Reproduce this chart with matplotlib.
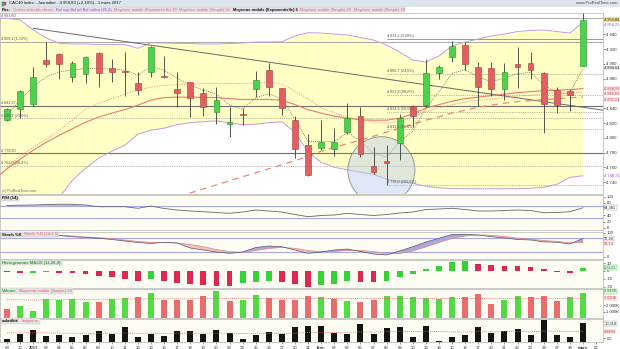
import matplotlib
matplotlib.use('Agg')
import matplotlib.pyplot as plt
from matplotlib.patches import Ellipse, Rectangle
import numpy as np

# ---- data (CAC40 daily, 29 dec 2016 -> 1 mars 2017) ----
dates = ['29', '30', '2017', '03', '04', '05', '06', '09', '10', '11', '12', '13',
         '16', '17', '18', '19', '20', '23', '24', '25', '26', '27', '30', '31',
         'févr.', '02', '03', '06', '07', '08', '09', '10', '13', '14', '15', '16', '17',
         '20', '21', '22', '23', '24', '27', '28', 'mars', '02']

opens = [4823.9, 4838.4, 4845.6, 4905.1, 4912.9, 4881.7, 4885.8, 4915.0, 4894.7, 4890.3,
         4873.6, 4889.3, 4883.9, 4865.9, 4875.0, 4860.1, 4835.1, 4818.1, 4831.6, 4865.5,
         4891.6, 4866.8, 4823.9, 4790.1, 4786.9, 4785.6, 4808.1, 4829.3, 4761.6, 4768.4,
         4792.4, 4842.9, 4844.2, 4887.1, 4909.6, 4925.5, 4896.1, 4893.9, 4865.9, 4899.7,
         4901.5, 4887.1, 4864.5, 4863.6, 4897.4]
highs = [4839.7, 4864.5, 4896.1, 4929.1, 4915.0, 4903.8, 4911.0, 4915.5, 4906.1, 4916.0,
         4888.9, 4924.5, 4911.0, 4889.3, 4875.5, 4867.6, 4869.0, 4841.9, 4840.6, 4890.3,
         4900.7, 4867.5, 4829.3, 4805.0, 4823.9, 4812.7, 4847.3, 4841.1, 4787.8, 4790.1,
         4832.0, 4844.2, 4906.1, 4898.4, 4931.3, 4929.1, 4902.0, 4902.0, 4900.7, 4922.3,
         4916.4, 4889.3, 4869.0, 4865.5, 4968.5]
lows = [4822.6, 4826.2, 4843.3, 4896.1, 4879.4, 4875.0, 4874.4, 4869.0, 4875.0, 4856.8,
        4857.8, 4882.5, 4880.4, 4841.9, 4827.6, 4829.3, 4819.4, 4801.3, 4817.1, 4854.6,
        4856.4, 4830.7, 4772.9, 4749.0, 4783.3, 4775.6, 4805.0, 4774.2, 4750.8, 4735.9,
        4770.7, 4814.8, 4841.9, 4879.4, 4902.8, 4891.6, 4843.3, 4856.4, 4851.0, 4866.8,
        4879.4, 4806.7, 4833.8, 4836.5, 4897.0]
closes = [4838.8, 4863.2, 4882.5, 4899.3, 4899.6, 4900.7, 4909.6, 4887.1, 4888.5, 4888.9,
          4864.5, 4922.3, 4882.1, 4860.1, 4854.1, 4841.9, 4851.0, 4821.6, 4830.3, 4877.7,
          4868.2, 4840.6, 4785.6, 4749.4, 4794.5, 4794.0, 4826.2, 4778.8, 4753.9, 4766.6,
          4826.2, 4829.3, 4887.9, 4895.3, 4924.1, 4899.7, 4868.2, 4865.5, 4888.5, 4895.3,
          4891.6, 4845.6, 4845.0, 4857.8, 4959.83]
prev_close = 4845.0

boll_up = [4961.6, 4959.3, 4945.8, 4934.9, 4927.8, 4926.8, 4926.8, 4926.1, 4926.1, 4926.1,
           4921.0, 4928.6, 4928.2, 4927.8, 4927.5, 4926.8, 4926.8, 4927.5, 4928.2, 4929.5,
           4929.5, 4929.9, 4937.6, 4942.1, 4941.7, 4940.3, 4939.0, 4935.6, 4932.2, 4925.5,
           4916.0, 4905.1, 4902.4, 4910.6, 4924.1, 4929.5, 4933.6, 4937.6, 4940.3, 4943.7,
           4945.1, 4945.8, 4943.7, 4941.7, 4956.21]
boll_lo = [4677.7, 4687.2, 4698.0, 4708.8, 4719.6, 4742.7, 4758.9, 4772.5, 4781.9, 4790.1,
           4805.0, 4810.4, 4813.1, 4817.8, 4820.5, 4821.9, 4823.0, 4820.5, 4817.8, 4818.5,
           4820.5, 4821.6, 4807.7, 4780.6, 4767.0, 4760.3, 4756.9, 4753.5, 4750.8, 4744.0,
           4740.6, 4738.6, 4734.5, 4732.5, 4731.4, 4731.2, 4731.2, 4731.2, 4731.2, 4731.4,
           4731.8, 4733.2, 4737.2, 4746.7, 4748.71]
ema5 = [4830.7, 4851.0, 4869.0, 4882.5, 4889.3, 4891.6, 4893.9, 4893.9, 4892.6, 4891.6,
        4884.8, 4896.1, 4891.6, 4880.4, 4871.3, 4864.5, 4859.1, 4844.1, 4838.6, 4854.2,
        4859.8, 4852.1, 4825.5, 4795.1, 4794.9, 4794.8, 4807.4, 4796.0, 4779.2, 4774.2,
        4795.0, 4808.7, 4840.4, 4862.4, 4887.1, 4892.1, 4882.5, 4875.7, 4880.8, 4886.6,
        4888.6, 4871.4, 4861.1, 4859.8, 4894.54]
ema20 = [4758.2, 4771.1, 4783.3, 4794.1, 4803.6, 4812.4, 4821.2, 4828.0, 4833.4, 4838.1,
         4844.2, 4851.0, 4854.4, 4855.0, 4855.0, 4854.8, 4854.4, 4853.0, 4851.9, 4851.9,
         4851.9, 4851.0, 4844.9, 4838.1, 4833.4, 4829.3, 4826.6, 4824.3, 4823.9, 4823.9,
         4826.6, 4832.3, 4840.2, 4844.9, 4849.6, 4853.0, 4855.0, 4857.1, 4859.1, 4861.1,
         4862.5, 4863.8, 4864.5, 4865.2, 4866.59]
sma20 = [4760.3, 4775.2, 4787.3, 4798.2, 4810.4, 4823.9, 4838.8, 4846.9, 4853.0, 4859.1,
         4864.5, 4868.6, 4870.6, 4872.0, 4872.6, 4873.1, 4873.6, 4873.6, 4873.6, 4874.0,
         4875.4, 4872.6, 4863.2, 4853.0, 4840.2, 4834.1, 4828.0, 4824.6, 4821.2, 4819.8,
         4822.6, 4828.0, 4835.4, 4840.8, 4844.9, 4848.3, 4851.0, 4852.3, 4854.4, 4856.4,
         4857.8, 4859.1, 4860.1, 4860.5, 4861.55]
sma50 = [4648.6, 4654.0, 4659.5, 4665.5, 4670.9, 4676.3, 4681.7, 4687.2, 4692.6, 4698.0,
         4703.5, 4709.1, 4714.5, 4720.1, 4725.5, 4731.0, 4736.4, 4742.0, 4747.4, 4752.8,
         4758.2, 4763.7, 4769.1, 4775.2, 4781.9, 4787.3, 4792.1, 4796.8, 4802.2, 4807.7,
         4813.1, 4818.5, 4823.9, 4828.6, 4833.4, 4837.4, 4841.5, 4844.2, 4846.9, 4849.0,
         4850.3, 4851.7, 4853.0, 4854.1, 4855.13]

# horizontal levels (full width) and retracement from the 8 feb low
levels_full = [4961.6, 4929.1, 4843.27, 4826.2, 4779.6, 4762.0]
labels_full = ['4 961,60', '4 929,1 (1,33%)', '4 843,27', '4 826,2 (23,6%)',
               '4 779,60', '4 762,0 (38,2%)']
styles_full = ['solid', 'solid', 'solid', 'dotted', 'solid', 'dotted']
fib_start = 29
levels_fib = [4933.2, 4886.7, 4857.9, 4834.6, 4811.3, 4736.0]
labels_fib = ['4 933,2 (0,00%)', '4 886,7 (23,6%)', '4 857,9 (38,2%)',
              '4 834,6 (50,0%)', '4 811,3 (61,8%)', '4 736,0 (100,0%)']
trend_x = [2, 45.5]
trend_y = [4948.0, 4837.5]

rsi = [71.6, 72.6, 73.2, 74.8, 75.5, 75.5, 73.2, 67.7, 67.7, 67.7, 62.6, 70.0, 62.0, 57.0,
       53.9, 51.6, 49.0, 46.5, 50.6, 57.0, 53.9, 50.6, 42.6, 35.5, 39.4, 41.0, 46.5, 42.6,
       39.4, 42.6, 47.4, 50.6, 58.7, 60.3, 62.6, 58.7, 53.9, 53.9, 55.5, 57.0, 55.5, 48.4,
       49.0, 51.6, 64.381]
stoch_k = [94.6, 94.6, 92.5, 90.4, 88.3, 83.3, 80.0, 76.7, 71.7, 65.4, 59.2, 55.0, 60.0,
           57.0, 36.3, 27.9, 19.6, 14.2, 19.6, 38.3, 44.6, 41.7, 27.9, 14.2, 19.6, 27.9,
           32.0, 21.7, 11.3, 7.1, 23.8, 41.7, 61.3, 76.7, 92.5, 93.3, 90.4, 83.3, 78.0,
           71.7, 69.6, 62.0, 60.0, 52.9, 76.28]
stoch_d = [94.6, 94.6, 93.3, 91.7, 89.6, 86.3, 82.1, 79.2, 75.8, 69.6, 63.3, 60.0, 58.3,
           57.1, 50.8, 41.7, 30.0, 20.8, 17.5, 25.8, 34.2, 38.3, 35.0, 25.8, 20.8, 21.7,
           25.8, 25.8, 21.7, 13.3, 13.3, 23.8, 40.4, 59.2, 75.8, 86.3, 90.4, 89.2, 84.2,
           77.5, 72.9, 67.5, 63.8, 58.3, 58.14]
macd_hist = [-1.7, -3.0, -2.6, -1.3, -2.1, -3.0, -3.4, -6.4, -8.1, -10.3, -12.4, -10.3,
             -12.4, -15.8, -17.1, -17.5, -18.8, -19.2, -15.8, -14.5, -12.8, -13.7, -16.7,
             -20.1, -18.4, -16.7, -13.2, -13.6, -14.1, -13.2, -8.1, -3.8, 3.0, 6.8, 11.5,
             12.4, 9.4, 7.3, 6.8, 6.4, 5.6, 2.1, -1.3, -2.1, 4.3141]
prev_hist = -1.2
volume = [1.41, 1.92, 1.14, 2.97, 2.81, 2.97, 2.55, 2.55, 2.97, 3.06, 3.28, 3.84, 2.81,
          2.81, 2.81, 3.38, 4.16, 2.70, 2.81, 3.64, 3.06, 2.81, 2.81, 3.48, 3.22, 2.97,
          2.59, 2.55, 2.81, 3.48, 3.38, 3.22, 3.06, 2.97, 3.22, 3.22, 3.75, 2.19, 2.86,
          3.48, 3.22, 3.48, 2.59, 3.22, 3.84]
volume_ma = [2.86, 2.84, 2.80, 2.83, 2.85, 2.88, 2.90, 2.92, 2.93, 2.95, 2.97, 3.00, 2.99,
             2.98, 2.98, 3.00, 3.05, 3.03, 3.02, 3.04, 3.05, 3.05, 3.04, 3.06, 3.06, 3.05,
             3.04, 3.02, 3.01, 3.03, 3.05, 3.06, 3.07, 3.06, 3.06, 3.05, 3.07, 3.05, 3.04,
             3.05, 3.06, 3.07, 3.06, 3.07, 3.09]
volat = [0.45, 0.80, 1.07, 0.66, 0.71, 0.61, 0.73, 0.98, 0.78, 1.28, 0.61, 0.82, 0.64,
         0.98, 1.00, 0.78, 1.05, 0.87, 0.45, 0.73, 0.91, 0.78, 1.26, 1.37, 1.35, 0.84,
         0.78, 1.46, 0.80, 1.19, 1.30, 0.59, 1.37, 0.34, 0.57, 0.73, 1.26, 0.89, 1.00,
         1.14, 0.71, 1.76, 0.73, 0.59, 1.5318]
volat_ma = [0.88, 0.87, 0.88, 0.87, 0.86, 0.85, 0.84, 0.85, 0.84, 0.86, 0.85, 0.85, 0.84,
            0.85, 0.86, 0.85, 0.86, 0.85, 0.83, 0.83, 0.84, 0.84, 0.86, 0.89, 0.91, 0.91,
            0.91, 0.94, 0.93, 0.95, 0.97, 0.96, 0.98, 0.95, 0.94, 0.93, 0.95, 0.95, 0.96,
            0.97, 0.96, 1.00, 0.99, 0.97, 0.9884]

# ---- figure ----
W, H = 620, 349
plt.rcParams['font.family'] = ['Liberation Sans', 'DejaVu Sans']
fig = plt.figure(figsize=(W / 100, H / 100), dpi=100)
fig.patch.set_facecolor('white')
renderer = fig.canvas.get_renderer()

idx = np.arange(len(closes))
XL, XR = -0.535, 45.53
AXW = 603 / W
GREEN, RED = '#4bd34b', '#e35f5f'
PINK = '#e2607a'
PURPLE = '#c79ae6'
LAV = '#aaaaee'
FS = 3.1
RFS = 2.8


def fx(x):
    return x / W


def fy(y):
    return 1 - y / H


def panel(top, bottom, bg='#fdfdf4'):
    ax = fig.add_axes([0, fy(bottom), AXW, (bottom - top) / H])
    ax.set_facecolor(bg)
    ax.set_xlim(XL, XR)
    ax.yaxis.tick_right()
    ax.tick_params(axis='y', labelsize=FS, length=1.5, width=0.4, pad=1, colors='#333333')
    ax.tick_params(axis='x', bottom=False, labelbottom=False)
    for s in ax.spines.values():
        s.set_color('#b4b4b4')
        s.set_linewidth(0.5)
    return ax


def fmt(v, nd=2):
    s = f'{v:,.{nd}f}'
    return s.replace(',', ' ').replace('.', ',')


def rlabel(ax, v, txt, color='#222222', bg='white', ec='none'):
    ax.text(1.002, v, txt, transform=ax.get_yaxis_transform(), fontsize=RFS, color=color,
            va='center', ha='left', zorder=10,
            bbox=dict(boxstyle='square,pad=0.1', fc=bg, ec=ec, lw=0.3))


def header(x, y, parts, bg='#e4e4e4', size=FS):
    x0 = x
    for txt, col, bold in parts:
        t = fig.text(fx(x), fy(y), txt, fontsize=size, color=col, va='center', ha='left',
                     fontweight='bold' if bold else 'normal', zorder=7)
        x += t.get_window_extent(renderer).width + 2.5
    fig.add_artist(Rectangle((fx(x0 - 1.5), fy(y + 2.6)), fx(x - x0), 5.2 / H,
                             transform=fig.transFigure, fc=bg, ec='#c4c4c4', lw=0.3, zorder=6))


# title bar
fig.add_artist(Rectangle((0, fy(6.5)), 1, 6.5 / H, transform=fig.transFigure,
                         fc='#dfe5ec', ec='none', zorder=1))
fig.add_artist(Rectangle((fx(1.5), fy(5.5)), fx(2.2), 3.5 / H, transform=fig.transFigure,
                         fc=GREEN, ec='#2a7a2a', lw=0.3, zorder=2))
fig.add_artist(Rectangle((fx(4.2), fy(5.0)), fx(2.2), 3.0 / H, transform=fig.transFigure,
                         fc=RED, ec='#993333', lw=0.3, zorder=2))
fig.text(fx(9), fy(3.3), 'CAC40 Index - Journalier - 4 959,83 (+2,10%) - 1 mars 2017',
         fontsize=FS, color='#111111', va='center', zorder=3)
fig.text(fx(617), fy(3.5), 'www.ProRealTime.com', fontsize=2.9, color='#444444',
         va='center', ha='right', zorder=3)

header(2, 9.6, [('Prix:', '#111111', True), ('Ordres sélectifs clients', PINK, False),
                ('Bol sup Bol inf Bol milieu (20,2)', '#9a44d0', False),
                ('Moyenne mobile (Exponentielle) 20', PINK, False),
                ('Moyenne mobile (Simple) 50', PINK, False),
                ('Moyenne mobile (Exponentielle) 5', '#111111', True),
                ('Moyenne mobile (Simple) 20', PINK, False),
                ('Moyenne mobile (Simple) 20', PINK, False)], size=2.9)

# ---- price panel ----
ax = panel(12.8, 193.8, bg='white')
ax.set_ylim(4724.4, 4969.0)
xf = np.r_[XL, idx]
ax.fill_between(xf, np.r_[boll_lo[0], boll_lo], np.r_[boll_up[0], boll_up],
                color='#ffffc6', lw=0, zorder=0.5)
ax.plot(xf, np.r_[boll_up[0], boll_up], color=PURPLE, lw=0.7, zorder=1.5)
ax.plot(xf, np.r_[boll_lo[0], boll_lo], color=PURPLE, lw=0.7, zorder=1.5)

for lv, lb, st in zip(levels_full, labels_full, styles_full):
    if st == 'solid':
        dark = lv in (4843.27, 4779.6)
        ax.axhline(lv, color='#707070' if dark else '#9a9a9a', lw=0.8 if dark else 0.6, zorder=1)
    else:
        ax.axhline(lv, color='#777777', lw=0.5, ls=(0, (1, 1.6)), zorder=1)
    ax.text(XL + 0.1, lv + 1.2, lb, fontsize=2.7, color='#555555', va='bottom', zorder=4)
for k, (lv, lb) in enumerate(zip(levels_fib, labels_fib)):
    ax.hlines(lv, fib_start, XR, color='#8a8a8a' if k == 0 else '#777777', lw=0.6 if k == 0 else 0.5,
              ls='solid' if k == 0 else (0, (1, 1.6)), zorder=1)
    ax.text(fib_start + 0.05, lv + 1.2, lb, fontsize=2.7, color='#555555', va='bottom', zorder=4)

ax.plot(trend_x, trend_y, color='#6a6a6a', lw=0.7, zorder=1.6)
ax.plot(idx, sma50, color='#ee8877', lw=0.9, ls=(0, (5, 4)), zorder=2)
ax.plot(idx, sma20, color='#f09090', lw=0.6, ls=(0, (1.5, 1.5)), zorder=2)
ax.plot(np.r_[XL, idx], np.r_[ema20[0] - 8, ema20], color='#ec7b72', lw=0.8, zorder=2)
ax.plot(idx, ema5, color='#666666', lw=0.5, ls=(0, (1.5, 1.5)), zorder=2)

ax.add_patch(Ellipse((28.6, 4756.2), 5.12, 90.7, fc='#b9cdee', ec='none',
                     alpha=0.45, zorder=2.5))
ax.add_patch(Ellipse((28.6, 4756.2), 5.12, 90.7, fc='none', ec='#8a8a8a', lw=0.6, zorder=2.6))

o, c, h, l = map(np.array, (opens, closes, highs, lows))
up = c >= o
ax.vlines(idx, l, h, color='#3a3a3a', lw=0.6, zorder=3)
body = np.maximum(np.abs(c - o), 0.9)
ax.bar(idx, body, bottom=np.minimum(o, c), width=0.44,
       color=np.where(up, GREEN, RED), edgecolor=np.where(up, '#2b8f2b', '#a83a3a'),
       lw=0.4, zorder=3.5)

pt = [4740, 4760, 4780, 4800, 4820, 4840, 4880, 4900, 4920, 4940]
ax.set_yticks(pt)
ax.set_yticklabels([fmt(v, 0) for v in pt])
rlabel(ax, closes[-1], fmt(closes[-1]), bg='#f3dc7a')
rlabel(ax, boll_up[-1] - 3.5, fmt(boll_up[-1]), color='#9a44d0')
rlabel(ax, ema5[-1], fmt(ema5[-1]), bg='#e8e8e8')
rlabel(ax, ema20[-1], fmt(ema20[-1]), color='#d03a3a', bg='#fbe4e4')
rlabel(ax, sma20[-1] - 1, fmt(sma20[-1]), color='#d03a3a', bg='#fbe4e4')
rlabel(ax, sma50[-1] - 3.5, fmt(sma50[-1]), color='#d03a3a', bg='#fbe4e4')
rlabel(ax, boll_lo[-1], fmt(boll_lo[-1]), color='#9a44d0')
ax.text(0.003, 0.012, '(c) ProRealTime.com', transform=ax.transAxes, fontsize=2.6,
        color='#666666', zorder=5)

# ---- RSI ----
ax = panel(195.0, 229.5)
ax.set_ylim(-5.8, 105.5)
ax.axhline(70, color=LAV, lw=0.8)
ax.axhline(30, color=LAV, lw=0.8)
r = np.array(rsi)
ax.fill_between(idx, 70, r, where=r > 70, interpolate=True, color='#f0a8a8', lw=0)
ax.plot(idx, r, color='#666666', lw=0.6)
ax.set_yticks([0, 20, 40, 80, 100])
rlabel(ax, rsi[-1], fmt(rsi[-1], 3), bg='white', ec='#999999')
header(2, 198.0, [('RSI (14)', '#111111', True)])

# ---- Stochastic ----
ax = panel(231.5, 258.5)
ax.set_ylim(-7.5, 105)
ax.axhline(80, color=LAV, lw=0.8)
ax.axhline(20, color=LAV, lw=0.8)
kk, dd = np.array(stoch_k), np.array(stoch_d)
ax.fill_between(idx, kk, dd, where=kk >= dd, interpolate=True, color='#8e8ed0', alpha=0.75, lw=0)
ax.fill_between(idx, kk, dd, where=kk < dd, interpolate=True, color='#f5b4b4', alpha=0.8, lw=0)
ax.plot(idx, dd, color='#e88080', lw=0.5)
ax.plot(idx, kk, color='#555566', lw=0.5)
ax.set_yticks([0, 100])
rlabel(ax, stoch_k[-1], fmt(stoch_k[-1]), bg='white', ec='#999999')
rlabel(ax, stoch_d[-1] - 4, fmt(stoch_d[-1]), color='#d03a3a', bg='#fbe4e4')
header(2, 234.5, [('Stoch %K', '#111111', True), ('Stoch %D (14,3,5)', PINK, False)])

# ---- MACD histogram ----
ax = panel(259.7, 288.0)
ax.set_ylim(-21.7, 14.4)
mh = np.array(macd_hist)
rising = mh > np.r_[prev_hist, mh[:-1]]
ax.bar(idx, mh, width=0.44, color=np.where(rising, '#35d335', '#e0284e'), lw=0)
ax.set_yticks([-20, -10, 0, 10])
ax.set_yticklabels(['-20', '-10', '0', '10'])
rlabel(ax, macd_hist[-1], fmt(macd_hist[-1], 4), color='#118811', bg='#e4f8e4', ec='#66bb66')
header(2, 262.6, [('Histogramme MACD (12,26,9)', '#2aa82a', True)])

# ---- Volume ----
ax = panel(288.5, 318.0)
ax.set_ylim(0, 4.6)
vv = np.array(volume)
vup = np.array(closes) >= np.r_[prev_close, closes[:-1]]
ax.bar(idx, vv, width=0.46, color=np.where(vup, '#52dc44', '#ea6c6c'), lw=0)
ax.plot(idx, volume_ma, color='#e86060', lw=0.5, ls=(0, (1.5, 1.5)))
ax.set_yticks([1, 2])
ax.set_yticklabels(['1 000K', '2 000K'])
rlabel(ax, volume[-1] + 0.35, fmt(volume[-1] * 1000, 0) + 'K', color='#118811', bg='#e4f8e4', ec='#66bb66')
rlabel(ax, volume_ma[-1], fmt(volume_ma[-1] * 1000, 0) + 'K', color='#d03a3a', bg='#fbe4e4')
header(2, 291.0, [('Volume', '#2aa82a', True), ('Moyenne mobile (Simple) 20', PINK, False)])

# ---- Volatility ----
ax = panel(318.5, 342.3)
ax.set_ylim(0.227, 1.86)
ax.bar(idx, volat, width=0.46, color='#141414', lw=0)
ax.plot(idx, volat_ma, color='#e86060', lw=0.5, ls=(0, (1.5, 1.5)))
ax.set_yticks([0.5])
ax.set_yticklabels(['0,5'])
rlabel(ax, volat[-1], fmt(volat[-1], 4), bg='white', ec='#999999')
rlabel(ax, volat_ma[-1], fmt(volat_ma[-1], 4), color='#d03a3a', bg='#fbe4e4')
header(2, 321.0, [('volatilité', '#111111', True), ('moyenne', PINK, False)])

ax.tick_params(axis='x', bottom=True, labelbottom=True, labelsize=FS, length=1.5,
               width=0.4, pad=1, colors='#333333')
ax.set_xticks(np.arange(len(dates)))
ax.set_xticklabels(dates)
for t in ax.get_xticklabels():
    if t.get_text() in ('2017', 'févr.', 'mars'):
        t.set_fontweight('bold')

fig.savefig('out.png', dpi=100, facecolor='white')
